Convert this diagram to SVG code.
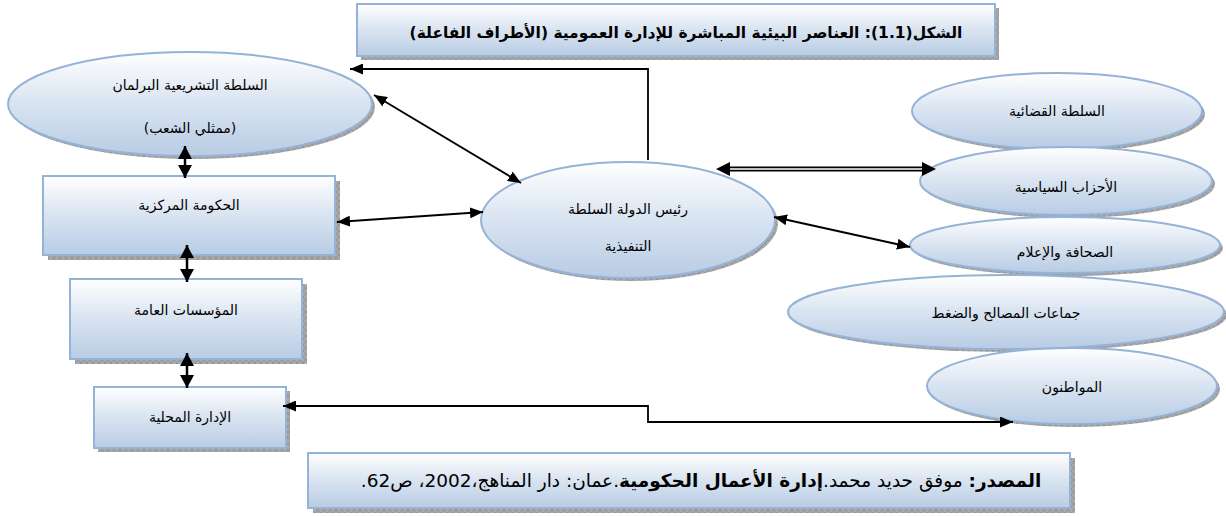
<svg xmlns="http://www.w3.org/2000/svg" width="1226" height="517" viewBox="0 0 1226 517">
<style>
.n{fill:url(#g);stroke:#95b3d7;stroke-width:2}
.sh{fill:url(#hatch)}
.t{font-family:"DejaVu Sans",sans-serif;font-size:14px;fill:#000;text-anchor:middle;direction:rtl}
.c{fill:none;stroke:#000;stroke-width:1.8}
.v{fill:none;stroke:#000;stroke-width:2.5}
</style>
<defs>
<linearGradient id="g" x1="0" y1="0" x2="0" y2="1">
<stop offset="0" stop-color="#ffffff"/>
<stop offset="0.45" stop-color="#dce6f2"/>
<stop offset="1" stop-color="#b8cce4"/>
</linearGradient>
<pattern id="hatch" width="6" height="6" patternUnits="userSpaceOnUse">
<rect width="6" height="6" fill="#a9a9a9"/>
<path d="M0 0L6 6M6 0L0 6" stroke="#8c8c8c" stroke-width="0.7"/>
</pattern>
<marker id="a" markerUnits="userSpaceOnUse" markerWidth="13" markerHeight="11" refX="13" refY="5.5" orient="auto-start-reverse">
<path d="M0,0 L13,5.5 L0,11 z" fill="#000"/>
</marker>
<marker id="b" markerUnits="userSpaceOnUse" markerWidth="13" markerHeight="14" refX="13" refY="7" orient="auto-start-reverse">
<path d="M0,0 L13,7 L0,14 z" fill="#000"/>
</marker>
</defs>
<rect width="1226" height="517" fill="#fff"/>

<g id="title">
<rect class="sh" x="361" y="8" width="638" height="52"/>
<rect class="n" x="357" y="4" width="638" height="52"/>
<text class="t" x="686" y="38" style="font-weight:bold;font-size:15.5px">الشكل(1.1): العناصر البيئية المباشرة للإدارة العمومية (الأطراف الفاعلة)</text>
</g>

<g id="legislative">
<ellipse class="sh" cx="193" cy="107" rx="182" ry="52"/>
<ellipse class="n" cx="190" cy="104" rx="182" ry="52"/>
<text class="t" x="190" y="90">السلطة التشريعية البرلمان</text>
<text class="t" x="190" y="133">(ممثلي الشعب)</text>
</g>

<g id="central-gov">
<rect class="sh" x="48" y="181" width="292" height="79"/>
<rect class="n" x="43" y="176" width="292" height="79"/>
<text class="t" x="189" y="210">الحكومة المركزية</text>
</g>

<g id="public-inst">
<rect class="sh" x="75" y="284" width="232" height="80"/>
<rect class="n" x="70" y="279" width="232" height="80"/>
<text class="t" x="186" y="315">المؤسسات العامة</text>
</g>

<g id="local-admin">
<rect class="sh" x="98" y="391" width="192" height="61"/>
<rect class="n" x="94" y="387" width="192" height="61"/>
<text class="t" x="190" y="422">الإدارة المحلية</text>
</g>

<g id="head-of-state">
<ellipse class="sh" cx="631" cy="223" rx="147" ry="58"/>
<ellipse class="n" cx="628" cy="220" rx="147" ry="58"/>
<text class="t" x="628" y="214">رئيس الدولة السلطة</text>
<text class="t" x="628" y="251">التنفيذية</text>
</g>

<g id="judicial">
<ellipse class="sh" cx="1060" cy="114" rx="145" ry="38"/>
<ellipse class="n" cx="1057" cy="111" rx="145" ry="38"/>
<text class="t" x="1057" y="116">السلطة القضائية</text>
</g>

<g id="parties">
<ellipse class="sh" cx="1069" cy="184" rx="146" ry="34"/>
<ellipse class="n" cx="1066" cy="181" rx="146" ry="34"/>
<text class="t" x="1066" y="192">الأحزاب السياسية</text>
</g>

<g id="press">
<ellipse class="sh" cx="1068" cy="248" rx="155" ry="28"/>
<ellipse class="n" cx="1065" cy="245" rx="155" ry="28"/>
<text class="t" x="1065" y="257">الصحافة والإعلام</text>
</g>

<g id="interest-groups">
<ellipse class="sh" cx="1009" cy="315" rx="218" ry="37"/>
<ellipse class="n" cx="1006" cy="312" rx="218" ry="37"/>
<text class="t" x="1006" y="318">جماعات المصالح والضغط</text>
</g>

<g id="citizens">
<ellipse class="sh" cx="1075" cy="389" rx="145" ry="38"/>
<ellipse class="n" cx="1072" cy="386" rx="145" ry="38"/>
<text class="t" x="1072" y="392">المواطنون</text>
</g>

<g id="source">
<rect class="sh" x="313" y="458" width="762" height="55"/>
<rect class="n" x="308" y="453" width="762" height="55"/>
<text class="t" x="701" y="487" style="font-size:18.5px"><tspan font-weight="bold">المصدر:</tspan> موفق حديد محمد.<tspan font-weight="bold">إدارة الأعمال الحكومية</tspan>.عمان: دار المناهج،2002، ص62.</text>
</g>

<g id="connectors">
<path class="c" d="M648,160 V69 H350" marker-end="url(#a)"/>
<line class="c" x1="374" y1="95" x2="521" y2="183" marker-start="url(#a)" marker-end="url(#a)"/>
<line class="c" x1="337" y1="222" x2="483" y2="212" marker-start="url(#a)" marker-end="url(#a)"/>
<line class="c" x1="774" y1="217" x2="910" y2="247" marker-start="url(#a)" marker-end="url(#a)"/>
<path class="c" d="M283,406 H648 V422 H1013" marker-start="url(#a)" marker-end="url(#a)"/>
<line x1="728" y1="169" x2="923" y2="169" stroke="#000" stroke-width="5"/>
<line x1="728" y1="169" x2="923" y2="169" stroke="#fff" stroke-width="1.5"/>
<path d="M716,169 L730,162 L730,176 z M936,169 L922,162 L922,176 z" fill="#000"/>
<line class="v" x1="185" y1="146" x2="185" y2="178" marker-start="url(#b)" marker-end="url(#b)"/>
<line class="v" x1="187" y1="245" x2="187" y2="282" marker-start="url(#b)" marker-end="url(#b)"/>
<line class="v" x1="187" y1="353" x2="187" y2="388" marker-start="url(#b)" marker-end="url(#b)"/>
</g>
</svg>
